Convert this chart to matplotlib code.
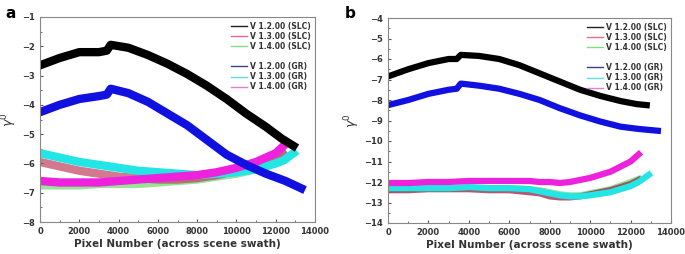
import matplotlib.pyplot as plt
from matplotlib.lines import Line2D
from matplotlib.ticker import MultipleLocator, AutoMinorLocator

# ---- panel a ----
a_x_slc12 = [0, 1000, 2000, 3000, 3400, 3600, 4500, 5500, 6500, 7500, 8500, 9500, 10500, 11500, 12300, 12900]
a_slc12 = [-2.65, -2.4, -2.2, -2.2, -2.15, -1.95, -2.05, -2.3, -2.6, -2.95, -3.35, -3.8, -4.3, -4.75, -5.15, -5.4]
a_x_gr12 = [0, 1000, 2000, 3000, 3400, 3600, 4500, 5500, 6500, 7500, 8500, 9500, 10500, 11500, 12500, 13300]
a_gr12 = [-4.25, -4.0, -3.8, -3.7, -3.65, -3.45, -3.6, -3.9, -4.3, -4.7, -5.2, -5.7, -6.05, -6.35, -6.6, -6.85]
a_x_low = [0, 1000, 2000, 3000, 4000, 5000, 6000, 7000, 8000, 9000, 10000, 11000, 12000, 12400, 12900]
a_slc13 = [-5.95, -6.1, -6.25, -6.35, -6.45, -6.5, -6.55, -6.55, -6.5, -6.4, -6.25, -6.1, -5.85, -5.7, None]
a_slc14 = [-6.75, -6.75, -6.75, -6.7, -6.7, -6.7, -6.65, -6.6, -6.55, -6.45, -6.35, -6.2, -5.95, -5.7, None]
a_gr13 = [-5.65, -5.8, -5.95, -6.05, -6.15, -6.25, -6.3, -6.35, -6.4, -6.35, -6.3, -6.2, -6.0, -5.9, -5.65]
a_gr14 = [-6.6, -6.65, -6.65, -6.65, -6.6, -6.55, -6.5, -6.45, -6.4, -6.3, -6.15, -5.95, -5.65, -5.4, None]

# ---- panel b ----
b_x_top = [0, 1000, 2000, 3000, 3400, 3600, 4500, 5500, 6500, 7500, 8500, 9500, 10500, 11500, 12300, 12800, 13350]
b_slc12 = [-6.85, -6.5, -6.2, -6.0, -6.0, -5.8, -5.85, -6.0, -6.3, -6.7, -7.1, -7.5, -7.8, -8.05, -8.2, -8.25, None]
b_gr12 = [-8.25, -8.0, -7.7, -7.5, -7.45, -7.2, -7.3, -7.45, -7.7, -8.0, -8.4, -8.75, -9.05, -9.3, -9.4, -9.45, -9.5]
b_x_low = [0, 1000, 2000, 3000, 4000, 5000, 6000, 7000, 7500, 8000, 8500, 9000, 9500, 10000, 11000, 12000, 12400, 12900]
b_slc13 = [-12.4, -12.4, -12.35, -12.35, -12.35, -12.4, -12.4, -12.5, -12.55, -12.7, -12.75, -12.75, -12.7, -12.6, -12.4, -12.1, -11.9, None]
b_slc14 = [-12.35, -12.35, -12.3, -12.3, -12.3, -12.3, -12.3, -12.35, -12.4, -12.5, -12.6, -12.65, -12.65, -12.55, -12.35, -12.0, -11.85, None]
b_gr13 = [-12.3, -12.3, -12.3, -12.3, -12.25, -12.3, -12.3, -12.35, -12.45, -12.55, -12.65, -12.7, -12.7, -12.65, -12.5, -12.2, -12.0, -11.65]
b_gr14 = [-12.05, -12.05, -12.0, -12.0, -11.95, -11.95, -11.95, -11.95, -12.0, -12.0, -12.05, -12.0, -11.9, -11.8, -11.5, -11.0, -10.65, None]

legend_labels = ["V 1.2.00 (SLC)", "V 1.3.00 (SLC)", "V 1.4.00 (SLC)",
                 "V 1.2.00 (GR)", "V 1.3.00 (GR)", "V 1.4.00 (GR)"]
legend_colors = ["#222222", "#e07088", "#80e080", "#404090", "#60dede", "#e07ee0"]

txt = "#333333"


def clean(xs, ys):
    pts = [(x, y) for x, y in zip(xs, ys) if y is not None]
    return [p[0] for p in pts], [p[1] for p in pts]


def style(ax, ymin, ymax):
    ax.set_xlim(0, 14000)
    ax.set_ylim(ymin, ymax)
    ax.xaxis.set_major_locator(MultipleLocator(2000))
    ax.xaxis.set_minor_locator(AutoMinorLocator(2))
    ax.yaxis.set_major_locator(MultipleLocator(1))
    ax.yaxis.set_minor_locator(AutoMinorLocator(2))
    ax.tick_params(which="both", direction="in", labelsize=6, colors="#555555",
                   labelcolor=txt, length=2.5)
    ax.tick_params(which="minor", length=1.5)
    for lab in ax.get_xticklabels() + ax.get_yticklabels():
        lab.set_fontweight("bold")
    for s in ax.spines.values():
        s.set_color("#888888")
        s.set_linewidth(0.8)
    ax.set_xlabel("Pixel Number (across scene swath)", fontsize=7.5, color=txt,
                  fontweight="bold", labelpad=2)
    ax.set_ylabel(r"$\gamma^0$", fontsize=9, color=txt, labelpad=2)
    handles = [Line2D([], [], color=c, lw=1) for c in legend_colors]
    blank = Line2D([], [], color="none")
    hs = handles[:3] + [blank] + handles[3:]
    ls = legend_labels[:3] + [""] + legend_labels[3:]
    leg = ax.legend(hs, ls, loc="upper right", frameon=False, fontsize=5.5,
                    handlelength=2.2, handletextpad=0.3, labelspacing=0.15,
                    borderaxespad=0.2)
    for t in leg.get_texts():
        t.set_fontweight("bold")
        t.set_color(txt)


fig = plt.figure(figsize=(6.85, 2.54), dpi=100)
ax1 = fig.add_axes([40 / 685, 1 - 222 / 254, 275 / 685, 205 / 254])
ax2 = fig.add_axes([388 / 685, 1 - 223 / 254, 283 / 685, 205 / 254])

lw = 6
ax1.plot(*clean(a_x_low, a_slc14), color="#7fdc7f", lw=lw, alpha=0.8)
ax1.plot(*clean(a_x_low, a_slc13), color="#c04060", lw=lw, alpha=0.7)
ax1.plot(*clean(a_x_low, a_gr13), color="#22e6e6", lw=lw)
ax1.plot(*clean(a_x_low, a_gr14), color="#ee22dd", lw=lw)
ax1.plot(*clean(a_x_gr12, a_gr12), color="#1010e0", lw=lw)
ax1.plot(*clean(a_x_slc12, a_slc12), color="#000000", lw=lw)
style(ax1, -8, -1)

lw = 4.5
ax2.plot(*clean(b_x_low, b_slc14), color="#7fdc7f", lw=lw, alpha=0.8)
ax2.plot(*clean(b_x_low, b_slc13), color="#a03050", lw=lw, alpha=0.8)
ax2.plot(*clean(b_x_low, b_gr13), color="#22e6e6", lw=lw)
ax2.plot(*clean(b_x_low, b_gr14), color="#ee22dd", lw=lw)
ax2.plot(*clean(b_x_top, b_gr12), color="#1010e0", lw=lw)
ax2.plot(*clean(b_x_top, b_slc12), color="#000000", lw=lw)
style(ax2, -14, -4)

fig.text(5 / 685, 1 - 14 / 254, "a", fontsize=11, fontweight="bold", va="center")
fig.text(345 / 685, 1 - 14 / 254, "b", fontsize=11, fontweight="bold", va="center")

fig.savefig("out.png", dpi=100)
